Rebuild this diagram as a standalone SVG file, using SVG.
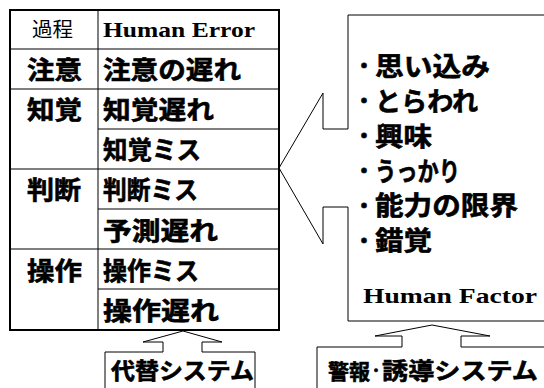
<svg xmlns="http://www.w3.org/2000/svg" width="544" height="388" viewBox="0 0 544 388">
<style>
.ln{fill:none;stroke:#000;stroke-width:1}
.jp{font-family:"Noto Sans CJK JP","Noto Sans CJK SC",sans-serif;font-weight:bold;fill:#000;stroke:#000;stroke-width:0.6}
.jr{font-family:"Noto Sans CJK JP","Noto Sans CJK SC",sans-serif;font-weight:normal;fill:#000}
.en{font-family:"Liberation Serif","Times New Roman",serif;font-weight:bold;fill:#000}
.dot{font-size:20px}
</style>
<rect width="544" height="388" fill="#fff"/>
<g id="table">
<path class="ln" d="M98,10V330M10,49H279M10,89H279M98,129H279M10,169H279M98,209H279M10,249H279M98,289H279"/>
<rect x="10" y="10" width="269" height="320" fill="none" stroke="#000" stroke-width="2"/>
<text class="jr" x="32" y="36.5" font-size="20" textLength="41" lengthAdjust="spacingAndGlyphs">過程</text>
<text class="en" x="103" y="36.5" font-size="22" textLength="152" lengthAdjust="spacingAndGlyphs">Human Error</text>
<g font-size="25.5">
<text class="jp" x="27" y="79" textLength="55" lengthAdjust="spacingAndGlyphs">注意</text>
<text class="jp" x="103" y="79" textLength="138" lengthAdjust="spacingAndGlyphs">注意の遅れ</text>
<text class="jp" x="27" y="119" textLength="55" lengthAdjust="spacingAndGlyphs">知覚</text>
<text class="jp" x="103" y="119" textLength="111" lengthAdjust="spacingAndGlyphs">知覚遅れ</text>
<text class="jp" x="103" y="159" textLength="98" lengthAdjust="spacingAndGlyphs">知覚ミス</text>
<text class="jp" x="27" y="199" textLength="54" lengthAdjust="spacingAndGlyphs">判断</text>
<text class="jp" x="103" y="199" textLength="95" lengthAdjust="spacingAndGlyphs">判断ミス</text>
<text class="jp" x="103" y="240" textLength="115" lengthAdjust="spacingAndGlyphs">予測遅れ</text>
<text class="jp" x="27" y="280" textLength="55" lengthAdjust="spacingAndGlyphs">操作</text>
<text class="jp" x="103" y="280" textLength="96" lengthAdjust="spacingAndGlyphs">操作ミス</text>
<text class="jp" x="103" y="320" textLength="116" lengthAdjust="spacingAndGlyphs">操作遅れ</text>
</g>
</g>
<g id="human-factor">
<path class="ln" d="M545,15H348V129M348,207V321H545"/>
<g font-size="26">
<text class="jp" y="75.5"><tspan class="dot" x="354" dy="-2.5">・</tspan><tspan x="375" dy="2.5" textLength="115" lengthAdjust="spacingAndGlyphs">思い込み</tspan></text>
<text class="jp" y="110.5"><tspan class="dot" x="354" dy="-2.5">・</tspan><tspan x="375" dy="2.5" textLength="103" lengthAdjust="spacingAndGlyphs">とらわれ</tspan></text>
<text class="jp" y="145.5"><tspan class="dot" x="354" dy="-2.5">・</tspan><tspan x="375" dy="2.5" textLength="57" lengthAdjust="spacingAndGlyphs">興味</tspan></text>
<text class="jp" y="180.5"><tspan class="dot" x="354" dy="-2.5">・</tspan><tspan x="375" dy="2.5" textLength="85" lengthAdjust="spacingAndGlyphs">うっかり</tspan></text>
<text class="jp" y="215"><tspan class="dot" x="354" dy="-2.5">・</tspan><tspan x="375" dy="2.5" textLength="143" lengthAdjust="spacingAndGlyphs">能力の限界</tspan></text>
<text class="jp" y="250"><tspan class="dot" x="354" dy="-2.5">・</tspan><tspan x="375" dy="2.5" textLength="57" lengthAdjust="spacingAndGlyphs">錯覚</tspan></text>
</g>
<text class="en" x="363" y="303" font-size="22" textLength="174" lengthAdjust="spacingAndGlyphs">Human Factor</text>
</g>
<g id="daitai-system">
<path class="ln" d="M105,389V352H163M202,352H255V389"/>
<text class="jp" x="111" y="378.5" font-size="23" textLength="143" lengthAdjust="spacingAndGlyphs">代替システム</text>
</g>
<g id="keiho-system">
<path class="ln" d="M317,389V347H402M461,347H545"/>
<text class="jp" y="378.5" font-size="23"><tspan x="328" font-size="21">警報</tspan><tspan x="369.5" dy="-3.5" font-size="13">・</tspan><tspan x="382" dy="3.5" textLength="156" lengthAdjust="spacingAndGlyphs">誘導システム</tspan></text>
</g>
<g id="connectors">
<path class="ln" d="M348,129H323V93L279,168L323,244V207H348"/>
<path class="ln" d="M163,352V342H143L183,331L222,342H202V352"/>
<path class="ln" d="M402,347V336H375L432,325L490,336H461V347"/>
</g>
</svg>
